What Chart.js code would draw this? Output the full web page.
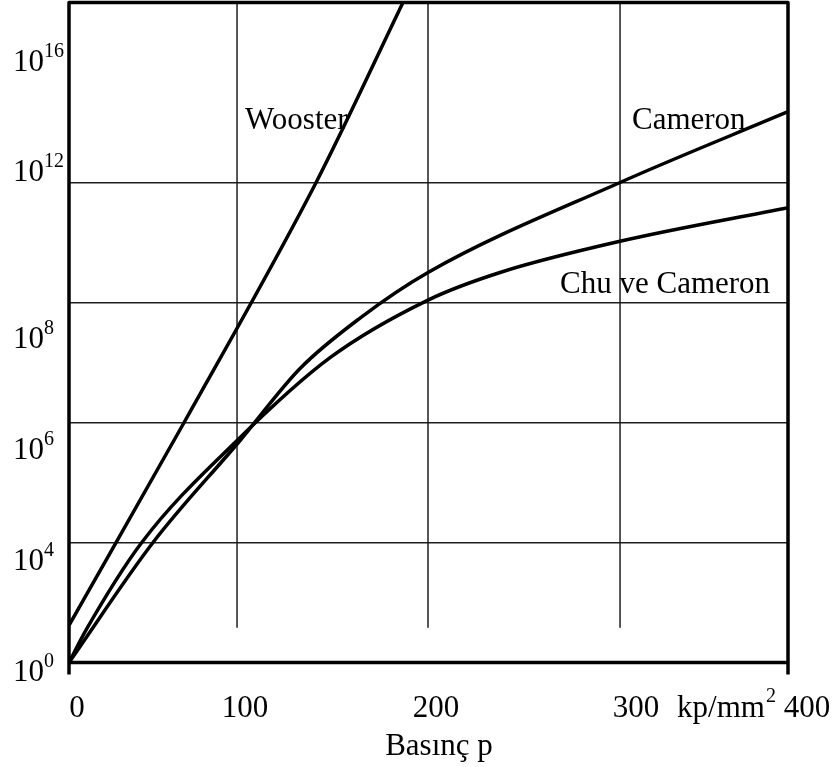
<!DOCTYPE html>
<html>
<head>
<meta charset="utf-8">
<script src="https://cdn.jsdelivr.net/npm/chart.js@4.4.1/dist/chart.umd.min.js"></script>
<style>
html,body{margin:0;padding:0;background:#fff;}
canvas{display:block;}
</style>
</head>
<body>
<canvas id="c" width="839" height="767"></canvas>
<script>
// ---------------- data (x: Basınç p in kp/mm², y: axis grid divisions) ----------------
const woosterX = [0, 68.5, 141.4, 186.9];
const woosterY = [0.31, 2.0, 4.0, 5.5];

const cameronX = [0, 50, 101.6, 133.0, 164.4, 200, 300, 400];
const cameronY = [0, 1.0, 1.85, 2.45, 2.87, 3.25, 4.0, 4.59];

const chuX = [0, 10.1, 43.3, 100, 148.7, 200, 237.5, 300, 400];
const chuY = [0, 0.27, 1.0, 1.85, 2.54, 3.02, 3.25, 3.51, 3.79];

const xTickValues = [0, 100, 200, 300, 400];
const xTickLabels = ['0', '100', '200', '300', '400'];
const xUnit = 'kp/mm';
const xUnitSup = '2';
const xTitle = 'Basınç p';

const yTickBase = '10';
const yTickExponents = ['0', '4', '6', '8', '12', '16'];
const yTickAt = [-0.15, 0.77, 1.70, 2.62, 4.01, 4.93];
const yGridAt = [1, 2, 3, 4];
const xGridAt = [100, 200, 300];

const curveLabels = ['Wooster', 'Cameron', 'Chu ve Cameron'];
const curveLabelX = [104.2, 307.1, 268.75];
const curveLabelY = [4.45, 4.45, 3.08];

// ---------------- axis geometry (the printed x axis is not evenly spaced) ----------------
const xBreakValues = [0, 100, 200, 300, 400];
const xBreakFractions = [0, 0.2337, 0.4993, 0.7664, 1];

function interp(v, xs, ys) {
  let i = 0;
  if (v <= xs[0]) i = 0;
  else if (v >= xs[xs.length - 1]) i = xs.length - 2;
  else { while (v > xs[i + 1]) i++; }
  const t = (v - xs[i]) / (xs[i + 1] - xs[i]);
  return ys[i] + t * (ys[i + 1] - ys[i]);
}

class PiecewiseLinearScale extends Chart.LinearScale {
  getPixelForValue(value) {
    if (value === null || value === undefined) return NaN;
    return this.getPixelForDecimal(interp(value, xBreakValues, xBreakFractions));
  }
  getValueForPixel(pixel) {
    return interp(this.getDecimalForPixel(pixel), xBreakFractions, xBreakValues);
  }
}
PiecewiseLinearScale.id = 'piecewiseLinear';
PiecewiseLinearScale.defaults = Chart.LinearScale.defaults;
Chart.register(PiecewiseLinearScale);

const FONT = '"Liberation Serif", "Times New Roman", serif';
const INK = '#000';
const GRID = '#1e1e1e';

const toPoints = (xs, ys) => xs.map((x, i) => ({ x: x, y: ys[i] }));

const decor = {
  id: 'decor',
  beforeDatasetsDraw(chart) {
    const { ctx, chartArea: a, scales: { x, y } } = chart;
    ctx.save();
    ctx.strokeStyle = GRID;
    ctx.lineWidth = 1.5;
    const gridBottom = y.getPixelForValue(0.29);
    xGridAt.forEach(v => {
      const px = x.getPixelForValue(v);
      ctx.beginPath();
      ctx.moveTo(px, a.top);
      ctx.lineTo(px, gridBottom);
      ctx.stroke();
    });
    ctx.fillStyle = INK;
    ctx.font = '31px ' + FONT;
    ctx.textAlign = 'left';
    ctx.textBaseline = 'alphabetic';
    curveLabels.forEach((t, i) => {
      ctx.fillText(t, x.getPixelForValue(curveLabelX[i]), y.getPixelForValue(curveLabelY[i]));
    });
    ctx.restore();
  },
  afterDatasetsDraw(chart) {
    const { ctx, chartArea: a } = chart;
    ctx.save();
    ctx.strokeStyle = INK;
    ctx.lineWidth = 3.5;
    ctx.lineJoin = 'round';
    ctx.lineCap = 'butt';
    ctx.beginPath();
    ctx.moveTo(a.left, a.bottom + 12);
    ctx.lineTo(a.left, a.top);
    ctx.lineTo(a.right, a.top);
    ctx.lineTo(a.right, a.bottom + 12);
    ctx.stroke();
    ctx.beginPath();
    ctx.moveTo(a.left, a.bottom);
    ctx.lineTo(a.right, a.bottom);
    ctx.stroke();
    ctx.restore();
  },
  afterDraw(chart) {
    const { ctx, chartArea: a, scales: { x, y } } = chart;
    ctx.save();
    ctx.fillStyle = INK;
    ctx.textBaseline = 'alphabetic';
    // y tick labels 10^n
    yTickExponents.forEach((e, i) => {
      const py = y.getPixelForValue(yTickAt[i]);
      ctx.font = '31px ' + FONT;
      ctx.textAlign = 'left';
      const lx = 13;
      ctx.fillText(yTickBase, lx, py);
      const w = ctx.measureText(yTickBase).width;
      ctx.font = '20px ' + FONT;
      ctx.fillText(e, lx + w, py - 14);
    });
    // x tick labels
    const xShift = [8, 8, 8, 16, 19];
    const baseX = a.bottom + 54.5;
    ctx.font = '31px ' + FONT;
    ctx.textAlign = 'center';
    xTickValues.forEach((v, i) => {
      ctx.fillText(xTickLabels[i], x.getPixelForValue(v) + xShift[i], baseX);
    });
    // unit
    ctx.textAlign = 'left';
    const ux = x.getPixelForValue(300) + 57;
    ctx.fillText(xUnit, ux, baseX);
    const uw = ctx.measureText(xUnit).width;
    ctx.font = '20px ' + FONT;
    ctx.fillText(xUnitSup, ux + uw + 1, baseX - 15);
    // axis title
    ctx.font = '31px ' + FONT;
    ctx.textAlign = 'center';
    ctx.fillText(xTitle, x.getPixelForValue(200) + 11, a.bottom + 92.5);
    ctx.restore();
  }
};

const lineStyle = {
  borderColor: INK,
  borderWidth: 3.5,
  pointRadius: 0,
  pointHoverRadius: 0,
  fill: false,
  cubicInterpolationMode: 'monotone'
};

new Chart(document.getElementById('c'), {
  type: 'line',
  data: {
    datasets: [
      Object.assign({ label: 'Wooster', data: toPoints(woosterX, woosterY) }, lineStyle),
      Object.assign({ label: 'Cameron', data: toPoints(cameronX, cameronY) }, lineStyle),
      Object.assign({ label: 'Chu ve Cameron', data: toPoints(chuX, chuY) }, lineStyle)
    ]
  },
  options: {
    responsive: false,
    devicePixelRatio: 1,
    animation: false,
    events: [],
    layout: { padding: { left: 69, right: 51, top: 2.5, bottom: 104.5 } },
    plugins: { legend: { display: false }, tooltip: { enabled: false } },
    scales: {
      x: {
        type: 'piecewiseLinear',
        min: 0, max: 400,
        ticks: { display: false },
        grid: { display: false, drawTicks: false },
        border: { display: false },
        afterFit(s) { s.height = 0; }
      },
      y: {
        type: 'linear',
        min: 0, max: 5.5,
        ticks: { display: false, stepSize: 1 },
        grid: {
          drawTicks: false,
          lineWidth: 1.5,
          color: c => (c.tick && yGridAt.includes(c.tick.value)) ? GRID : 'rgba(0,0,0,0)'
        },
        border: { display: false },
        afterFit(s) { s.width = 0; }
      }
    }
  },
  plugins: [decor]
});
</script>
</body>
</html>
